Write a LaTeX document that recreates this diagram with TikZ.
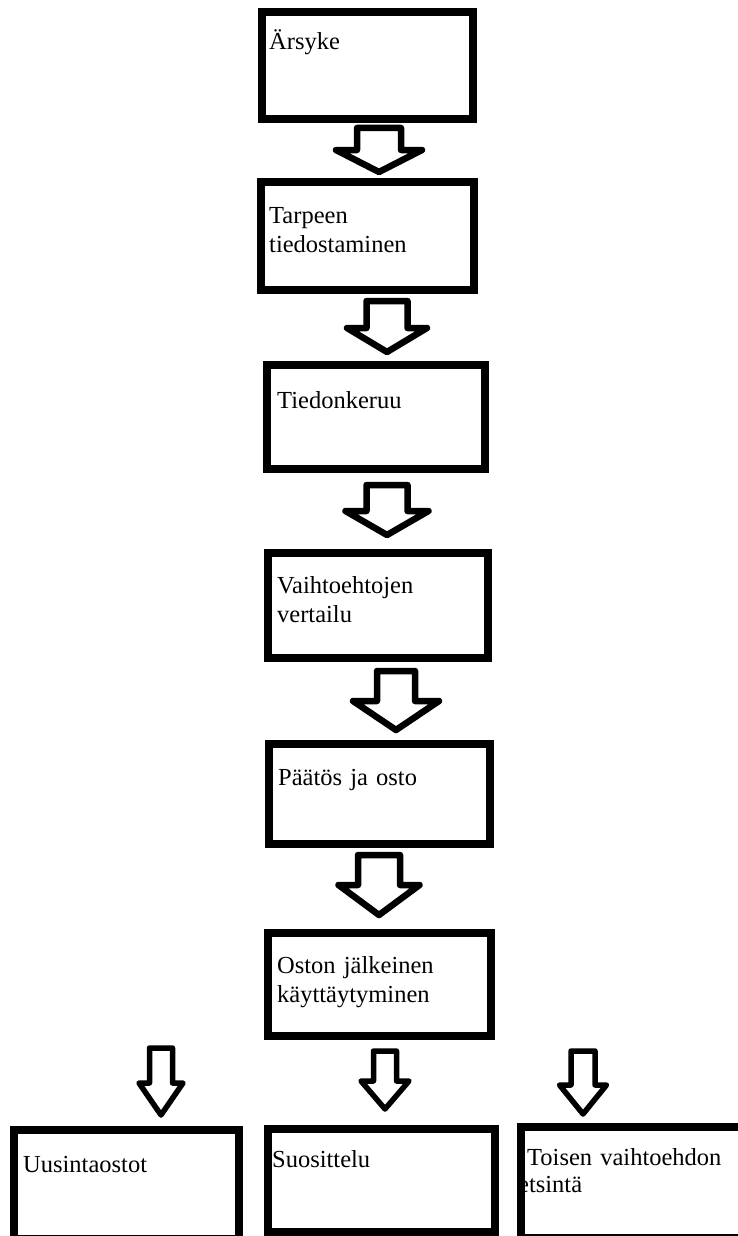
\documentclass[tikz,border=0pt]{standalone}
\usepackage{fontspec}
\setmainfont{Liberation Serif}
\newcommand\blockarrow[7]{%
  \draw[#7] ({#1-#5+3},{#2+3}) -- ({#1+#5-3},{#2+3}) -- ({#1+#5-3},{#3+3})
    -- ({#1+#6-3},{#3+3}) -- (#1,{#4-3}) -- ({#1-#6+3},{#3+3})
    -- ({#1-#5+3},{#3+3}) -- cycle;}
\begin{document}
\begin{tikzpicture}[x=1pt,y=-1pt,
  box/.style={draw=black, line width=8pt, fill=none, rectangle, inner sep=0pt},
  lbl/.style={anchor=base west, inner sep=0pt, text width=220pt, align=left,
              font=\fontsize{24.5}{29}\selectfont},
  arr/.style={draw=black, fill=white, line width=6.5pt, line join=round},
  sarr/.style={draw=black, fill=white, line width=5.5pt, line join=round}]
\useasboundingbox (0,0) rectangle (738,1236);
% texts (drawn first, borders on top)
\node[lbl] (t1) at (269,50) {Ärsyke};
\node[lbl] (t2) at (269,223) {Tarpeen\\tiedostaminen};
\node[lbl] (t3) at (277,408) {Tiedonkeruu};
\node[lbl] (t4) at (277,593) {Vaihtoehtojen\\vertailu};
\node[lbl] (t5) at (278,785) {Päätös ja osto};
\node[lbl] (t6) at (277,973) {Oston jälkeinen\\käyttäytyminen};
\node[lbl] (tl) at (23,1172) {Uusintaostot};
\node[lbl] (tm) at (272,1167) {Suosittelu};
\node[lbl, font=\fontsize{24.5}{27}\selectfont] (tr) at (527,1165) {Toisen vaihtoehdon\\\hspace*{-9pt}etsintä};
% boxes
\node[box, minimum width=211pt, minimum height=107pt] (b1) at (367.5,65.5) {};
\node[box, minimum width=213pt, minimum height=108pt] (b2) at (367.5,236) {};
\node[box, minimum width=218pt, minimum height=104pt] (b3) at (376,417) {};
\node[box, minimum width=220pt, minimum height=105pt] (b4) at (378,605.5) {};
\node[box, minimum width=221pt, minimum height=100pt] (b5) at (379.5,794) {};
\node[box, minimum width=223pt, minimum height=103pt] (b6) at (379.5,984.5) {};
\node[box, minimum width=225pt, minimum height=109pt] (bl) at (126.5,1184.5) {};
\node[box, minimum width=227pt, minimum height=103pt] (bm) at (381.5,1180.5) {};
\node[box, minimum width=235pt, minimum height=111pt] (br) at (638.5,1182.5) {};
% block arrows
\blockarrow{379}{125}{147}{175}{25}{46}{arr}
\blockarrow{387}{298}{325}{355}{23.5}{43}{arr}
\blockarrow{387}{482}{508}{538}{23.5}{44.5}{arr}
\blockarrow{396}{668}{698}{733}{22}{46}{arr}
\blockarrow{379}{852}{882}{918}{24}{43.5}{arr}
\blockarrow{161}{1045}{1080}{1118}{14.5}{25}{sarr}
\blockarrow{385}{1048}{1078}{1112}{14.5}{27}{sarr}
\blockarrow{583}{1048}{1082}{1117}{15}{26.5}{sarr}
\end{tikzpicture}
\end{document}
